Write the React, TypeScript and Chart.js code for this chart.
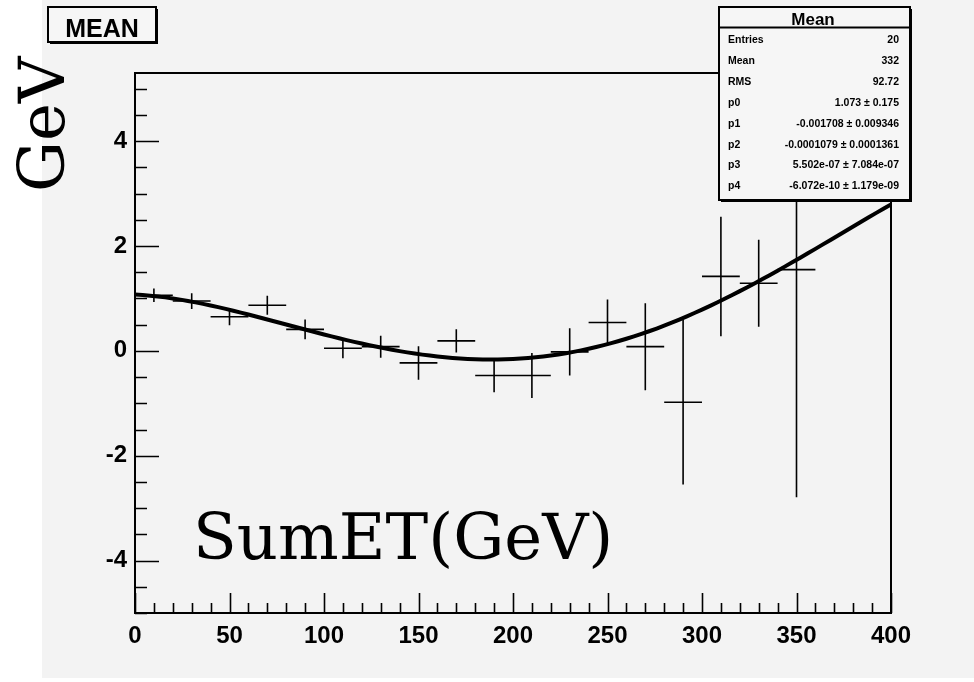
import { useEffect, useRef } from "react";
import { Chart, registerables } from "chart.js";

Chart.register(...registerables);

// Profile bins (SumET, GeV): bin centre, mean and error on the mean
const binCenters = [10, 30, 50, 70, 90, 110, 130, 150, 170, 190, 210, 230, 250, 270, 290, 310, 330, 350];
const binMeans = [1.06, 0.95, 0.65, 0.87, 0.41, 0.05, 0.08, -0.23, 0.19, -0.47, -0.47, -0.02, 0.54, 0.08, -0.98, 1.42, 1.29, 1.55];
const binErrors = [0.13, 0.15, 0.16, 0.18, 0.19, 0.19, 0.21, 0.32, 0.22, 0.32, 0.43, 0.45, 0.44, 0.83, 1.57, 1.14, 0.83, 4.34];
const binHalfWidth = 10;

// pol4 fit parameters p0..p4
const fitParams = [1.073, -0.001708, -0.0001079, 5.502e-7, -6.072e-10];

// Axis ranges and labelled ticks
const xRange = [0, 400];
const yRange = [-5, 5.3];
const xTickLabels = [0, 50, 100, 150, 200, 250, 300, 350, 400];
const yTickLabels = [-4, -2, 0, 2, 4];
const xMinorStep = 10;
const yMinorStep = 0.5;

// Statistics box
const statsTitle = "Mean";
const statsNames = ["Entries", "Mean", "RMS", "p0", "p1", "p2", "p3", "p4"];
const statsValues = [
  "20",
  "332",
  "92.72",
  "1.073 ± 0.175",
  "-0.001708 ± 0.009346",
  "-0.0001079 ± 0.0001361",
  "5.502e-07 ± 7.084e-07",
  "-6.072e-10 ± 1.179e-09",
];

const histTitle = "MEAN";
const yAxisTitle = "GeV";
const xAxisTitle = "SumET(GeV)";

const PAD_BG = "#f3f3f3";
const SANS = '"Liberation Sans", Arial, sans-serif';
const SERIF = '"DejaVu Serif", serif';

function evalFit(x: number) {
  let v = 0;
  for (let i = fitParams.length - 1; i >= 0; i--) v = v * x + fitParams[i];
  return v;
}

const fitXs = Array.from({ length: 101 }, (_, i) => xRange[0] + (i * (xRange[1] - xRange[0])) / 100);

const rootPadPlugin = {
  id: "rootPad",
  beforeDraw(chart: any) {
    const { ctx, width, height } = chart;
    ctx.save();
    ctx.fillStyle = "#ffffff";
    ctx.fillRect(0, 0, width, height);
    ctx.fillStyle = PAD_BG;
    ctx.fillRect(42, 0, width - 42, height - 4);
    ctx.restore();
  },
  beforeDatasetsDraw(chart: any) {
    const { ctx, chartArea: a, scales } = chart;
    const xs = scales.x;
    const ys = scales.y;
    ctx.save();
    ctx.strokeStyle = "#000";
    ctx.lineWidth = 2;
    ctx.strokeRect(a.left, a.top, a.right - a.left, a.bottom - a.top);

    // inward ticks on the x axis
    ctx.lineWidth = 1.6;
    ctx.beginPath();
    for (let v = xRange[0]; v <= xRange[1] + 1e-9; v += xMinorStep) {
      const px = Math.round(xs.getPixelForValue(v)) + 0.5;
      const major = xTickLabels.includes(v);
      const len = major ? 20 : 10;
      ctx.moveTo(px, a.bottom);
      ctx.lineTo(px, a.bottom - len);
    }
    // inward ticks on the y axis
    for (let v = yRange[0]; v <= yRange[1] + 1e-9; v += yMinorStep) {
      const vv = Math.round(v * 100) / 100;
      const py = Math.round(ys.getPixelForValue(vv)) + 0.5;
      const major = yTickLabels.includes(vv);
      const len = major ? 24 : 12;
      ctx.moveTo(a.left, py);
      ctx.lineTo(a.left + len, py);
    }
    ctx.stroke();

    // error crosses
    ctx.beginPath();
    ctx.rect(a.left, a.top, a.right - a.left, a.bottom - a.top);
    ctx.clip();
    ctx.lineWidth = 1.6;
    ctx.beginPath();
    binCenters.forEach((x, i) => {
      const y = binMeans[i];
      const e = binErrors[i];
      const py = ys.getPixelForValue(y);
      ctx.moveTo(xs.getPixelForValue(x - binHalfWidth), py);
      ctx.lineTo(xs.getPixelForValue(x + binHalfWidth), py);
      const px = xs.getPixelForValue(x);
      ctx.moveTo(px, ys.getPixelForValue(y - e));
      ctx.lineTo(px, ys.getPixelForValue(y + e));
    });
    ctx.stroke();
    ctx.restore();
  },
  afterDraw(chart: any) {
    const { ctx } = chart;
    ctx.save();

    // histogram title box
    ctx.fillStyle = "#000";
    ctx.fillRect(50, 9, 108, 35);
    ctx.fillStyle = "#f6f6f6";
    ctx.fillRect(48, 7, 108, 35);
    ctx.strokeStyle = "#000";
    ctx.lineWidth = 2;
    ctx.strokeRect(48, 7, 108, 35);
    ctx.fillStyle = "#000";
    ctx.font = `bold 25px ${SANS}`;
    ctx.textAlign = "center";
    ctx.textBaseline = "alphabetic";
    ctx.fillText(histTitle, 102, 37);

    // statistics box
    const bx = 719, by = 7, bw = 191, bh = 193;
    ctx.fillStyle = "#000";
    ctx.fillRect(bx + 2, by + 2, bw, bh);
    ctx.fillStyle = "#f6f6f6";
    ctx.fillRect(bx, by, bw, bh);
    ctx.strokeRect(bx, by, bw, bh);
    ctx.beginPath();
    ctx.moveTo(bx, 27.5);
    ctx.lineTo(bx + bw, 27.5);
    ctx.stroke();
    ctx.fillStyle = "#000";
    ctx.font = `bold 17px ${SANS}`;
    ctx.textAlign = "center";
    ctx.fillText(statsTitle, 813, 25);
    ctx.font = `bold 10.5px ${SANS}`;
    statsNames.forEach((name, i) => {
      const base = 43 + i * 20.9;
      ctx.textAlign = "left";
      ctx.fillText(name, 728, base);
      ctx.textAlign = "right";
      ctx.fillText(statsValues[i], 899, base);
    });

    // axis titles
    ctx.font = `64px ${SERIF}`;
    ctx.textAlign = "left";
    ctx.fillText(xAxisTitle, 193, 559);
    ctx.translate(64, 192);
    ctx.rotate(-Math.PI / 2);
    ctx.fillText(yAxisTitle, 0, 0);
    ctx.restore();
  },
};

export default function App() {
  const canvasRef = useRef<HTMLCanvasElement | null>(null);

  useEffect(() => {
    const canvas = canvasRef.current;
    if (!canvas) return;
    const tickFont = { family: SANS, weight: "bold" as const, size: 24 };
    const chart = new Chart(canvas, {
      type: "scatter",
      data: {
        datasets: [
          {
            label: "mean",
            data: binCenters.map((x, i) => ({ x, y: binMeans[i] })),
            pointRadius: 0,
            showLine: false,
          },
          {
            label: "pol4",
            data: fitXs.map((x) => ({ x, y: evalFit(x) })),
            showLine: true,
            borderColor: "#000",
            borderWidth: 4,
            pointRadius: 0,
            tension: 0,
          },
        ],
      },
      options: {
        responsive: false,
        animation: false,
        devicePixelRatio: 1,
        layout: { padding: { top: 73, right: 83, left: 0, bottom: 0 } },
        plugins: { legend: { display: false }, tooltip: { enabled: false } },
        scales: {
          x: {
            type: "linear",
            min: xRange[0],
            max: xRange[1],
            grid: { display: false, drawTicks: false },
            border: { display: false },
            ticks: { font: tickFont, color: "#000", padding: 9, maxRotation: 0, autoSkip: false },
            afterBuildTicks: (s: any) => {
              s.ticks = xTickLabels.map((v) => ({ value: v }));
            },
            afterFit: (s: any) => {
              s.height = 69;
            },
          },
          y: {
            type: "linear",
            min: yRange[0],
            max: yRange[1],
            grid: { display: false, drawTicks: false },
            border: { display: false },
            ticks: { font: tickFont, color: "#000", padding: 8, autoSkip: false },
            afterBuildTicks: (s: any) => {
              s.ticks = yTickLabels.map((v) => ({ value: v }));
            },
            afterFit: (s: any) => {
              s.width = 135;
            },
          },
        },
      },
      plugins: [rootPadPlugin],
    });
    return () => chart.destroy();
  }, []);

  return (
    <div style={{ position: "absolute", left: 0, top: 0, width: 974, height: 682 }}>
      <canvas ref={canvasRef} width={974} height={682} style={{ display: "block" }} />
    </div>
  );
}
